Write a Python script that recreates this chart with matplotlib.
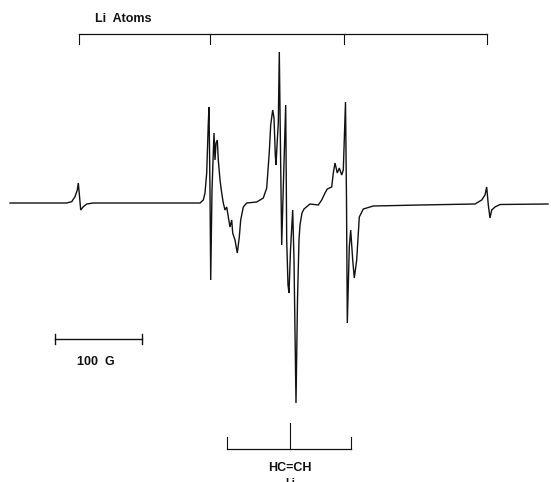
import matplotlib
matplotlib.use("Agg")
import matplotlib.pyplot as plt

# ESR trace of Li atoms + HC=CH adduct, digitised on a 551 x 482 canvas
# field: horizontal position, signal: vertical deflection (down = negative)
BASE = 204

field = [
    10, 40, 66.7, 71.7, 75, 77.3, 78.3, 79.5, 80.7, 83.3, 86.7, 93.3,
    190, 200, 203.3, 205, 206.7, 208.3, 209, 210, 210.7, 212, 214, 215,
    216, 217.3, 218.3, 220, 221.7, 223.3, 225, 226.7, 228.3, 230, 231.7,
    232.7, 235, 237.3, 239.3, 240.7, 243.3, 246.7, 256.7, 263.3, 266.7,
    269.3, 270.7, 272.7, 274, 275.3, 276, 277.3, 278.3, 279.3, 280.5,
    281.7, 283.5, 285.7, 286.7, 288, 289, 290.5, 292.7, 294, 296, 297.5,
    299, 300, 302, 304, 310, 318.3, 321.7, 325, 327.3, 331.7, 333.3, 335,
    337.3, 339.3, 341.7, 343.3, 345.5, 346.5, 347.3, 349.3, 350.7, 352.7,
    354.3, 356.7, 359.3, 363.3, 373.3, 420, 475, 481.7, 485, 486.7, 488.3,
    490, 491.7, 495, 500, 548,
]
ypix = [
    203, 203, 203, 201.7, 196.7, 190, 183, 196, 210, 206.7, 204, 203,
    203, 203, 200, 193, 173, 123, 107, 190, 280, 190, 133, 160,
    143, 140, 160, 180, 193, 203, 210, 207, 217, 227, 220,
    233, 240, 253, 237, 220, 207, 203, 202, 198, 188,
    152, 125, 110, 118, 155, 165, 140, 123, 52, 150,
    245, 180, 105, 240, 285, 293, 250, 210, 260, 403, 300,
    240, 225, 213, 209, 204, 205, 200, 193, 189, 187, 173, 163,
    173, 168, 175, 170, 102, 200, 323, 247, 230, 260,
    278, 260, 217, 209, 206, 205, 204, 200, 195, 187, 205,
    218, 210, 207, 204.5, 204,
]
signal = [BASE - v for v in ypix]

# stick diagrams
li_lines = [79, 210, 344, 487]
li_bar_y = BASE - 34
li_tick = 10
hcch_lines = [227, 290, 351]
hcch_bar_y = BASE - 449
hcch_tick = [12, 26, 12]
scale_x = [55, 142]          # 100 G
scale_y = BASE - 339

fig = plt.figure(figsize=(5.51, 4.82), dpi=100)
ax = fig.add_axes([0, 0, 1, 1])
ax.set_xlim(0, 551)
ax.set_ylim(BASE - 482, BASE)
ax.axis("off")

ink = "#111111"
ax.plot(field, signal, color=ink, lw=1.0, solid_joinstyle="miter")

# Li atom stick pattern on top
ax.plot([li_lines[0], li_lines[-1]], [li_bar_y, li_bar_y], color=ink, lw=0.9)
for x in li_lines:
    ax.plot([x, x], [li_bar_y, li_bar_y - li_tick], color=ink, lw=0.8)
ax.text(95, BASE - 19, "Li  Atoms", fontsize=9, fontweight="bold",
        family="Liberation Sans", ha="left", va="center", color=ink)

# acetylene adduct stick pattern below
ax.plot([hcch_lines[0], hcch_lines[-1]], [hcch_bar_y, hcch_bar_y], color=ink, lw=0.9)
for x, t in zip(hcch_lines, hcch_tick):
    ax.plot([x, x], [hcch_bar_y, hcch_bar_y + t], color=ink, lw=0.8)
ax.text(290, BASE - 468, "HC=CH", fontsize=9, fontweight="bold",
        family="Liberation Sans", ha="center", va="center", color=ink)
ax.text(290, BASE - 478, "Li", fontsize=8, fontweight="bold",
        family="Liberation Sans", ha="center", va="top", color=ink)

# field scale bar
ax.plot(scale_x, [scale_y, scale_y], color=ink, lw=1.0)
for x in scale_x:
    ax.plot([x, x], [scale_y - 5, scale_y + 5], color=ink, lw=1.0)
ax.text(96, BASE - 362, "100  G", fontsize=9, fontweight="bold",
        family="Liberation Sans", ha="center", va="center", color=ink)

fig.savefig("out.png", dpi=100)
